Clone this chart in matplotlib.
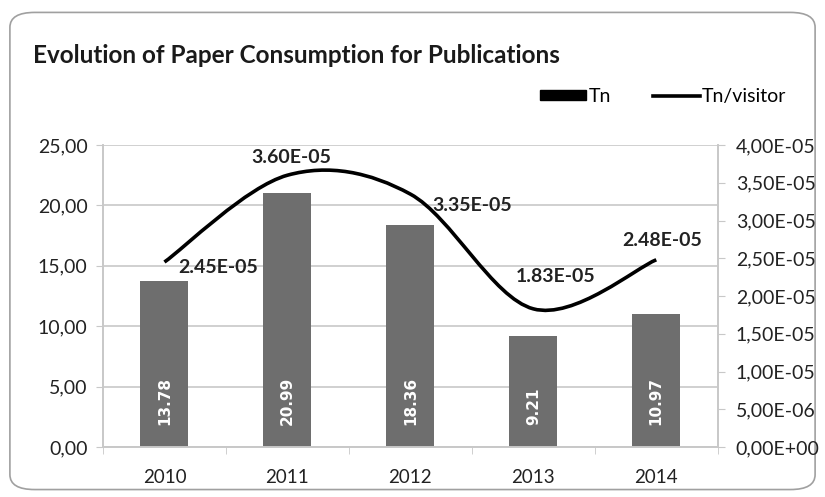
import matplotlib
matplotlib.use("Agg")
import matplotlib.pyplot as plt
from matplotlib.path import Path
from matplotlib.patches import PathPatch, FancyBboxPatch
from matplotlib.ticker import FuncFormatter, MultipleLocator
from matplotlib.lines import Line2D
from matplotlib.patches import Patch

# data
years = ["2010", "2011", "2012", "2013", "2014"]
tn = [13.78, 20.99, 18.36, 9.21, 10.97]
tn_visitor = [2.45e-05, 3.60e-05, 3.35e-05, 1.83e-05, 2.48e-05]
# label offsets (points) for the line labels
lab_off = [(10, -4, "left"), (3, 13, "center"), (16, -8, "left"), (16, 23, "center"), (4, 14, "center")]

FONT = "Lato"
plt.rcParams["font.family"] = [FONT, "DejaVu Sans"]

fig = plt.figure(figsize=(8.25, 4.97), dpi=100)

# rounded frame around the chart
frame = FancyBboxPatch((0.012, 0.015), 0.976, 0.96, boxstyle="round,pad=0,rounding_size=0.03",
                       transform=fig.transFigure, fc="white", ec="#a0a0a0", lw=1.2, zorder=-10)
fig.patches.append(frame)

ax = fig.add_axes([0.1248, 0.1006, 0.7452, 0.6076])
ax2 = ax.twinx()

x = list(range(len(years)))
grid_c = "#c8c8c8"
txt_c = "#222222"

ax.bar(x, tn, width=0.39, color="#6e6e6e", zorder=2)
ax.set_xlim(-0.5, 4.5)
ax.set_ylim(0, 25)
ax.yaxis.set_major_locator(MultipleLocator(5))
ax.yaxis.set_major_formatter(FuncFormatter(lambda v, p: f"{v:.2f}".replace(".", ",")))
ax.grid(axis="y", color=grid_c, lw=1.2, zorder=0)
ax.set_axisbelow(True)
ax.set_xticks(x)
ax.set_xticklabels(years)
ax.set_xticks([i + 0.5 for i in range(-1, 5)], minor=True)
ax.tick_params(axis="x", which="major", length=0, labelsize=13.5, pad=16, colors=txt_c)
ax.tick_params(axis="x", which="minor", length=5, color=grid_c)
ax.tick_params(axis="y", length=5, color=grid_c, labelsize=14, pad=6, labelcolor=txt_c)

for xi, v in zip(x, tn):
    ax.text(xi, 1.8, f"{v:.2f}", rotation=90, ha="center", va="bottom", color="white",
            fontsize=11, fontweight="bold", family="DejaVu Sans", zorder=3)

# smoothed line, Excel-style bezier
ax2.set_ylim(0, 4e-5)
ax2.yaxis.set_major_locator(MultipleLocator(5e-6))
ax2.yaxis.set_major_formatter(FuncFormatter(lambda v, p: f"{v:.2E}".replace(".", ",")))
ax2.tick_params(axis="y", length=5, color=grid_c, labelsize=14, pad=8, labelcolor=txt_c)

pts = list(zip(x, tn_visitor))
verts = [pts[0]]
codes = [Path.MOVETO]
for i in range(len(pts) - 1):
    p0 = pts[max(i - 1, 0)]
    p1 = pts[i]
    p2 = pts[i + 1]
    p3 = pts[min(i + 2, len(pts) - 1)]
    c1 = (p1[0] + (p2[0] - p0[0]) / 6, p1[1] + (p2[1] - p0[1]) / 6)
    c2 = (p2[0] - (p3[0] - p1[0]) / 6, p2[1] - (p3[1] - p1[1]) / 6)
    verts += [c1, c2, p2]
    codes += [Path.CURVE4] * 3
ax2.add_patch(PathPatch(Path(verts, codes), fc="none", ec="black", lw=2.6, zorder=4, capstyle="butt"))

for xi, v, (dx, dy, ha) in zip(x, tn_visitor, lab_off):
    ax2.annotate(f"{v:.2E}", (xi, v), xytext=(dx, dy), textcoords="offset points",
                 ha=ha, va="center", fontsize=14, fontweight="bold", color=txt_c)

for a in (ax, ax2):
    for s in a.spines.values():
        s.set_color(grid_c)
        s.set_linewidth(1.2)
ax2.spines["top"].set_visible(False)
ax.spines["top"].set_visible(False)

fig.text(0.04, 0.888, "Evolution of Paper Consumption for Publications", fontsize=17.5,
         fontweight="bold", color="#1a1a1a", va="center")

handles = [Patch(color="black"), Line2D([], [], color="black", lw=2.6)]
fig.legend(handles, ["Tn", "Tn/visitor"], loc="center right", bbox_to_anchor=(0.965, 0.806),
           ncol=2, frameon=False, fontsize=14, handlelength=2.4, handleheight=0.45,
           columnspacing=2.2, handletextpad=0.1, borderpad=0)

fig.savefig("out.png", dpi=100)
